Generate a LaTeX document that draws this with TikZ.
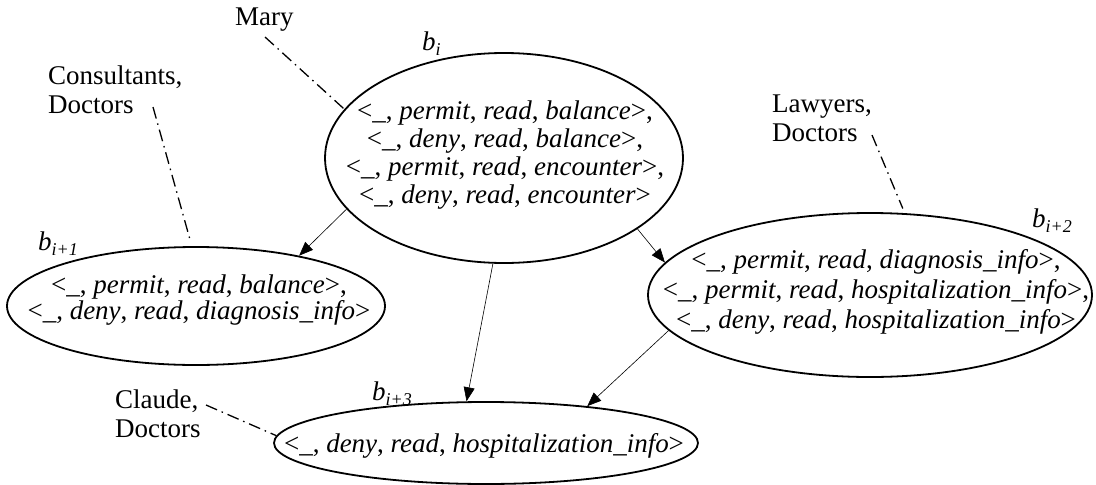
\documentclass[tikz,border=0pt]{standalone}
\usepackage{fontspec}
\setmainfont{Liberation Serif}
\usetikzlibrary{shapes.geometric,arrows.meta}

% one access-rule tuple: <_, effect, action, resource>
\newcommand{\rul}[3]{<\_, \textit{#1}, \textit{#2}, \textit{#3}>}
% italic b with a lowered italic subscript
\newcommand{\bsub}[1]{\textit{b}\raisebox{-5pt}{\fontsize{18}{18}\selectfont\textit{#1}}}

\tikzset{
  ell/.style={draw, ellipse, line width=1.8pt, inner sep=0pt},
  body/.style={align=center, inner sep=0pt},
  lbl/.style={align=left, inner sep=0pt, font=\fontsize{27}{29}\selectfont},
  blbl/.style={inner sep=0pt, anchor=base west, font=\fontsize{27}{29}\selectfont},
  flow/.style={line width=0.6pt, -{Triangle[length=14pt,width=11pt]}},
  owner/.style={line width=1.3pt, dash pattern=on 12pt off 5pt on 1.5pt off 5pt},
}

\begin{document}
\begin{tikzpicture}[x=1pt,y=-1pt]
\useasboundingbox (0,0) rectangle (1096,485);

% policy blocks
\node[ell, minimum width=358pt, minimum height=210pt] (bi) at (504,158) {};
\node[body, font=\fontsize{27}{28}\selectfont] (bitxt) at (505,155)
  {\rul{permit}{read}{balance},\\ \rul{deny}{read}{balance},\\
   \rul{permit}{read}{encounter},\\ \rul{deny}{read}{encounter}};

\node[ell, minimum width=378pt, minimum height=118pt] (bip1) at (196,306) {};
\node[body, font=\fontsize{27}{24}\selectfont] (bip1txt) at (199,300)
  {\rul{permit}{read}{balance},\\ \rul{deny}{read}{diagnosis\_info}};

\node[ell, minimum width=444pt, minimum height=164pt] (bip2) at (870,295) {};
\node[body, font=\fontsize{27}{30}\selectfont] (bip2txt) at (876,292)
  {\rul{permit}{read}{diagnosis\_info},\\ \rul{permit}{read}{hospitalization\_info},\\
   \rul{deny}{read}{hospitalization\_info}};

\node[ell, minimum width=424pt, minimum height=82pt] (bip3) at (486,443) {};
\node[body, font=\fontsize{27}{28}\selectfont] (bip3txt) at (484,446)
  {\rul{deny}{read}{hospitalization\_info}};

% block names
\node[blbl] (lbi)   at (422,50)  {\bsub{i}};
\node[blbl] (lbip1) at (38,250)  {\bsub{i+1}};
\node[blbl] (lbip2) at (1032,227) {\bsub{i+2}};
\node[blbl] (lbip3) at (372,400) {\bsub{i+3}};

% subjects
\node[blbl] (mary) at (235,25) {Mary};
\node[lbl, anchor=north west] (cons) at (48,65.5) {Consultants,\\Doctors};
\node[lbl, anchor=north west] (law) at (772,94.5) {Lawyers,\\Doctors};
\node[lbl, anchor=north west] (claude) at (115,389.5) {Claude,\\Doctors};

\coordinate (maryfoot) at (265,37);
\coordinate (consfoot) at (153,107);
\coordinate (lawfoot) at (872,135);
\coordinate (claudefoot) at (206,405);

% subject assignments
\draw[owner] (maryfoot) -- (bi.163);
\draw[owner, shorten >=5pt] (consfoot) -- (bip1.94);
\draw[owner, shorten >=5pt] (lawfoot) -- (bip2.67);
\draw[owner] (claudefoot) -- (bip3.178);

% refinement arrows
\draw[flow] (bi.198) -- (bip1.26);
\draw[flow] (bi.332) -- (bip2.171);
\draw[flow] (bi.264) -- (bip3.115);
\draw[flow] (bip2.190) -- (bip3.20);
\end{tikzpicture}
\end{document}
